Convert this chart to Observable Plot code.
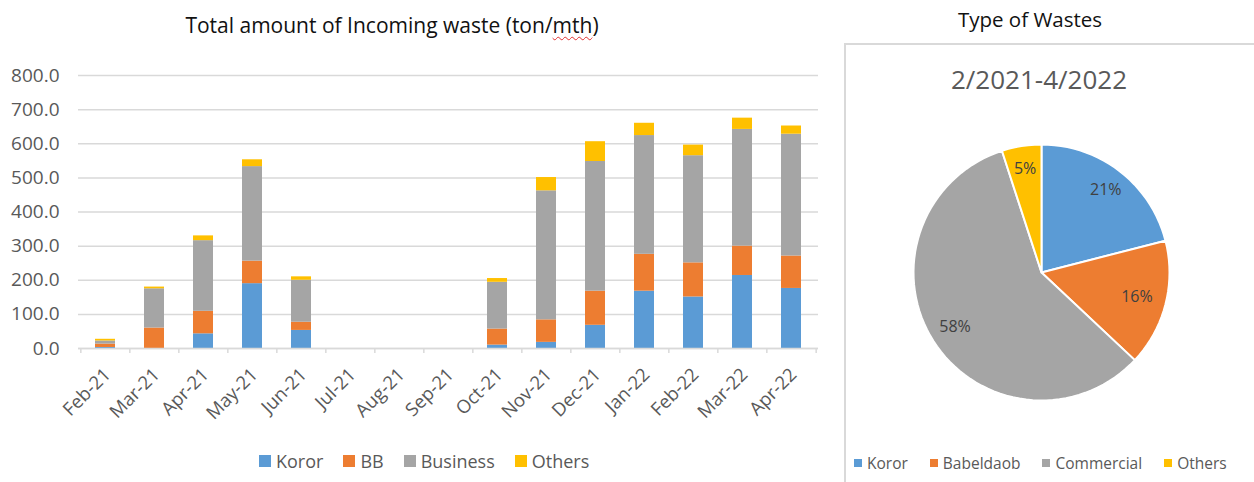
<!DOCTYPE html>
<html>
<head>
<meta charset="utf-8">
<script src="https://cdn.jsdelivr.net/npm/d3@7"></script>
<script src="https://cdn.jsdelivr.net/npm/@observablehq/plot@0.6"></script>
<style>
  html, body { margin: 0; padding: 0; background: #fff; width: 1254px; height: 482px; overflow: hidden; font-family: "Open Sans", "Noto Sans", sans-serif; }
  .abs { position: absolute; }
  #title { left: 0; width: 784px; top: 11px; text-align: center; font-size: 21px; color: #111; }
  .wavy { text-decoration: underline wavy #e03030; text-decoration-thickness: 1px; text-underline-offset: 3px; }
  #legend1 { left: 259px; top: 449px; font-size: 18px; color: #595959; display: flex; gap: 20px; }
  .item { display: flex; align-items: center; gap: 5px; }
  .sw { display: inline-block; width: 12px; height: 12px; }
  .sw2 { display: inline-block; width: 8px; height: 8px; }
  #box { left: 844px; top: 43px; width: 420px; height: 460px; border-left: 2px solid #d9d9d9; border-top: 2px solid #d9d9d9; }
  #title2 { left: 844px; width: 372px; top: 5px; text-align: center; font-size: 20.5px; color: #111; }
  #sub2 { left: 844px; width: 390px; top: 61px; text-align: center; font-size: 26px; color: #595959; }
  #legend2 { left: 854px; top: 452px; font-size: 15.5px; color: #595959; display: flex; gap: 22px; }
</style>
</head>
<body>
<script>
// ---- data ----
const months = ["Feb-21","Mar-21","Apr-21","May-21","Jun-21","Jul-21","Aug-21","Sep-21","Oct-21","Nov-21","Dec-21","Jan-22","Feb-22","Mar-22","Apr-22"];
const seriesNames = ["Koror","BB","Business","Others"];
const koror    = [3, 0, 43, 190, 53, 0, 0, 0, 10, 18, 68, 168, 151, 214, 176];
const bb       = [10, 60, 66, 66, 24, 0, 0, 0, 47, 66, 100, 108, 100, 86, 95];
const business = [9, 115, 207, 277, 123, 0, 0, 0, 137, 378, 380, 348, 314, 342, 357];
const others   = [5, 5, 14, 20, 10, 0, 0, 0, 11, 39, 58, 36, 31, 33, 24];
const yTicks = [0, 100, 200, 300, 400, 500, 600, 700, 800];
const colors = ["#5B9BD5", "#ED7D31", "#A5A5A5", "#FFC000"];

const pieNames = ["Koror", "Babeldaob", "Commercial", "Others"];
const pieValues = [21, 16, 58, 5];
const pieTitle = "Type of Wastes";
const pieSubtitle = "2/2021-4/2022";

// ---- build tables ----
const seriesArrays = [koror, bb, business, others];
const rows = [];
months.forEach((m, i) => seriesNames.forEach((s, k) => rows.push({month: m, series: s, value: seriesArrays[k][i]})));

const W1 = 830, H1 = 370, ML = 78, MR = 12, MT = 25, MB = 72;
const bw = (W1 - ML - MR) / months.length;

const bar = Plot.plot({
  width: W1, height: H1,
  marginLeft: ML, marginRight: MR, marginTop: MT, marginBottom: MB,
  style: {fontFamily: "'Open Sans', 'Noto Sans', sans-serif", color: "#595959", background: "transparent", overflow: "visible"},
  x: {domain: months, paddingInner: 0.6, paddingOuter: 0.3, label: null},
  y: {domain: [0, 800], label: null},
  color: {domain: seriesNames, range: colors},
  marks: [
    Plot.gridY(yTicks, {stroke: "#d9d9d9", strokeOpacity: 1, strokeWidth: 1.5}),
    Plot.axisY(yTicks, {tickSize: 0, tickPadding: 19, tickFormat: d3.format(".1f"), fontSize: 19, fill: "#595959"}),
    Plot.axisX({tickSize: 0, tickPadding: 23, tickRotate: -45, fontSize: 18.5, fill: "#595959", dx: 2}),
    Plot.barY(rows, Plot.stackY({order: seriesNames}, {x: "month", y: "value", fill: "series"})),
    Plot.ruleY([0], {stroke: "#d9d9d9", strokeWidth: 1.5}),
    Plot.ruleX(months, {x: d => d, y1: 0, y2: -15, dx: -bw / 2, stroke: "#d9d9d9", strokeWidth: 1.5}),
    Plot.ruleX(months.slice(-1), {x: d => d, y1: 0, y2: -15, dx: bw / 2, stroke: "#d9d9d9", strokeWidth: 1.5})
  ]
});
bar.classList.add("abs");
bar.style.left = "0px";
bar.style.top = "50px";

// ---- pie via geo polygons ----
const arcs = d3.pie().sort(null).value(d => d)(pieValues);
const steps = 120;
const feats = arcs.map((a, i) => {
  const pts = [[0, 0]];
  const n = Math.max(2, Math.ceil(steps * (a.endAngle - a.startAngle) / (2 * Math.PI)));
  for (let j = 0; j <= n; j++) {
    const t = a.startAngle + (a.endAngle - a.startAngle) * j / n;
    pts.push([Math.sin(t), -Math.cos(t)]);
  }
  pts.push([0, 0]);
  return {type: "Feature", properties: {name: pieNames[i], value: pieValues[i], mid: (a.startAngle + a.endAngle) / 2}, geometry: {type: "Polygon", coordinates: [pts]}};
});
const frame = {type: "Polygon", coordinates: [[[-1, -1], [1, -1], [1, 1], [-1, 1], [-1, -1]]]};
const labelR = [0.82, 0.77, 0.8, 0.82];
const labels = feats.map((f, i) => ({
  x: labelR[i] * Math.sin(f.properties.mid),
  y: -labelR[i] * Math.cos(f.properties.mid),
  text: f.properties.value + "%"
}));

const R = 128;
const pie = Plot.plot({
  width: 2 * R, height: 2 * R, margin: 0,
  style: {fontFamily: "'Open Sans', 'Noto Sans', sans-serif", background: "transparent", overflow: "visible"},
  projection: {type: "identity", domain: frame},
  color: {domain: pieNames, range: colors},
  marks: [
    Plot.geo(feats, {fill: d => d.properties.name, stroke: "white", strokeWidth: 2}),
    Plot.text(labels, {x: "x", y: "y", text: "text", fontSize: 16, fill: "#404040"})
  ]
});
pie.classList.add("abs");
pie.style.left = (1041 - R) + "px";
pie.style.top = (272 - R) + "px";

// ---- html pieces ----
const body = document.body;
function div(id, html) { const d = document.createElement("div"); d.id = id; d.className = "abs"; d.innerHTML = html; body.appendChild(d); return d; }
div("title", 'Total amount of Incoming waste (ton/<span class="wavy">mth</span>)');
div("legend1", seriesNames.map((s, i) => `<span class="item"><span class="sw" style="background:${colors[i]}"></span>${s}</span>`).join(""));
div("box", "");
div("title2", pieTitle);
div("sub2", pieSubtitle);
div("legend2", pieNames.map((s, i) => `<span class="item"><span class="sw2" style="background:${colors[i]}"></span>${s}</span>`).join(""));
body.appendChild(bar);
body.appendChild(pie);
</script>
</body>
</html>
